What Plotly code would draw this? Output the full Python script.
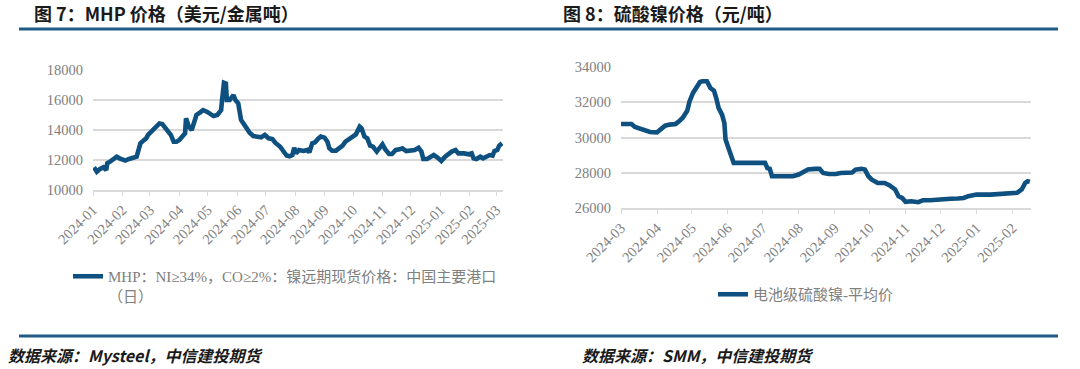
import plotly.graph_objects as go

# ---------------- data ----------------
mhp_dates = [
    "2024-01-02","2024-01-05","2024-01-08","2024-01-11","2024-01-12","2024-01-15","2024-01-16","2024-01-19",
    "2024-01-23","2024-01-26","2024-01-29","2024-02-01","2024-02-04","2024-02-08","2024-02-13","2024-02-16",
    "2024-02-18","2024-02-20","2024-02-23","2024-02-26","2024-02-28","2024-03-02","2024-03-05","2024-03-08",
    "2024-03-11","2024-03-14","2024-03-16","2024-03-19","2024-03-23","2024-03-26","2024-03-29","2024-04-01",
    "2024-04-04","2024-04-07","2024-04-08","2024-04-11","2024-04-14","2024-04-17","2024-04-19","2024-04-23",
    "2024-04-26","2024-04-30","2024-05-03","2024-05-07","2024-05-11","2024-05-15","2024-05-16","2024-05-18",
    "2024-05-20","2024-05-21","2024-05-24","2024-05-28","2024-05-30","2024-06-02","2024-06-05","2024-06-08",
    "2024-06-11","2024-06-14","2024-06-18","2024-06-21","2024-06-26","2024-06-30","2024-07-04","2024-07-08",
    "2024-07-11","2024-07-16","2024-07-19","2024-07-23","2024-07-26","2024-07-29","2024-07-31","2024-08-02",
    "2024-08-05","2024-08-10","2024-08-14","2024-08-16","2024-08-19","2024-08-22","2024-08-25","2024-08-28",
    "2024-09-01","2024-09-04","2024-09-06","2024-09-09","2024-09-13","2024-09-16","2024-09-20","2024-09-23",
    "2024-09-27","2024-09-30","2024-10-04","2024-10-08","2024-10-10","2024-10-13","2024-10-16","2024-10-19",
    "2024-10-22","2024-10-26","2024-10-29","2024-11-01","2024-11-04","2024-11-08","2024-11-11","2024-11-15",
    "2024-11-19","2024-11-22","2024-11-26","2024-12-01","2024-12-05","2024-12-09","2024-12-12","2024-12-14",
    "2024-12-18","2024-12-22","2024-12-25","2024-12-29","2025-01-02","2025-01-06","2025-01-09","2025-01-13",
    "2025-01-17","2025-01-20","2025-01-26","2025-01-31","2025-02-03","2025-02-05","2025-02-08","2025-02-12",
    "2025-02-15","2025-02-19","2025-02-22","2025-02-25","2025-02-27","2025-03-02","2025-03-04","2025-03-07",
]
mhp_values = [
    11510,11220,11380,11440,11510,11330,11780,11890,
    12110,12220,12110,12040,11960,12070,12160,12220,
    12670,13110,13290,13440,13670,13890,14000,14220,
    14440,14400,14220,14000,13670,13220,13220,13330,
    13600,13780,14780,14220,14000,14560,15000,15180,
    15330,15220,15110,14930,15000,15330,16000,17150,
    17100,16000,16000,16330,16000,15780,14670,14440,
    14110,13820,13600,13560,13510,13670,13450,13400,
    13150,12900,12600,12300,12250,12330,12820,12440,
    12670,12600,12670,12510,13110,13180,13400,13560,
    13490,13220,12780,12620,12620,12780,12960,13220,
    13400,13560,13710,14220,14110,13560,13440,12960,
    12890,12560,12780,13040,12710,12400,12400,12670,
    12710,12780,12600,12670,12670,12820,12560,12070,
    12070,12220,12330,12160,11930,12220,12400,12560,
    12670,12440,12440,12380,12440,12110,12070,12220,
    12110,12220,12330,12290,12600,12670,12960,13110,
]

ns_dates = [
    "2024-03-01","2024-03-10","2024-03-13","2024-03-17","2024-03-22","2024-03-26","2024-04-01","2024-04-04",
    "2024-04-08","2024-04-12","2024-04-17","2024-04-20","2024-04-23","2024-04-27","2024-04-29","2024-05-02",
    "2024-05-05","2024-05-08","2024-05-10","2024-05-14","2024-05-17","2024-05-20","2024-05-22","2024-05-24",
    "2024-05-27","2024-05-29","2024-05-30","2024-06-01","2024-06-04","2024-06-06","2024-06-15","2024-07-03",
    "2024-07-05","2024-07-07","2024-07-09","2024-07-15","2024-07-19","2024-07-27","2024-08-01","2024-08-06",
    "2024-08-09","2024-08-15","2024-08-19","2024-08-22","2024-08-27","2024-09-02","2024-09-06","2024-09-16",
    "2024-09-19","2024-09-24","2024-09-27","2024-09-30","2024-10-03","2024-10-08","2024-10-14","2024-10-18",
    "2024-10-23","2024-10-26","2024-10-29","2024-11-01","2024-11-06","2024-11-12","2024-11-16","2024-11-22",
    "2024-11-28","2024-12-01","2024-12-10","2024-12-16","2024-12-21","2024-12-25","2025-01-01","2025-01-13",
    "2025-01-22","2025-02-01","2025-02-05","2025-02-09","2025-02-12","2025-02-14","2025-02-16",
]
ns_values = [
    30770,30770,30600,30500,30350,30310,30290,30450,
    30670,30730,30770,30920,31110,31520,32050,32530,
    32810,33150,33190,33190,32810,32660,32240,31680,
    31300,30820,29880,29410,28930,28560,28560,28560,
    28270,28230,27800,27800,27840,27800,27900,28050,
    28180,28220,28220,27990,27930,27930,27990,28010,
    28180,28220,28180,27800,27610,27420,27420,27290,
    27050,26670,26570,26350,26380,26330,26440,26440,
    26480,26520,26520,26540,26570,26670,26760,26760,
    26800,26800,26860,27050,27420,27520,27480,
]

mhp_name = "MHP：NI≥34%，CO≥2%：镍远期现货价格：中国主要港口<br>（日）"
ns_name = "电池级硫酸镍-平均价"
title_left = "图 7：MHP 价格（美元/金属吨）"
title_right = "图 8：硫酸镍价格（元/吨）"
source_left = "数据来源：Mysteel，中信建投期货"
source_right = "数据来源：SMM，中信建投期货"

# ---------------- layout helpers ----------------
W, H = 1080, 369
def px(x):
    return x / W
def py(y):
    return 1 - y / H

LINE = "#0E5080"
GRID = "#D9D9D9"
TICKC = "#808080"
SERIF = "Liberation Serif, Noto Sans CJK SC"
CJK = "Noto Sans CJK SC"

fig = go.Figure()
fig.add_trace(go.Scatter(x=mhp_dates, y=mhp_values, mode="lines", name=mhp_name,
                         line=dict(color=LINE, width=4.6), xaxis="x", yaxis="y", legend="legend"))
fig.add_trace(go.Scatter(x=ns_dates, y=ns_values, mode="lines", name=ns_name,
                         line=dict(color=LINE, width=4.6), xaxis="x2", yaxis="y2", legend="legend2"))

tickfont = dict(family=SERIF, size=14.5, color=TICKC)

def xaxis(domain, rng, anchor):
    return dict(domain=domain, range=rng, anchor=anchor, type="date", automargin=False,
                dtick="M1", tick0="2024-01-01", tickformat="%Y-%m", tickangle=-45,
                showgrid=False, showline=True, linecolor=GRID, linewidth=1.5,
                ticks="outside", ticklen=4, tickcolor=GRID, tickwidth=1,
                tickfont=tickfont, zeroline=False, fixedrange=True)

def yaxis(domain, rng, dtick, anchor):
    return dict(domain=domain, range=rng, anchor=anchor, dtick=dtick, automargin=False,
                tickformat="d",
                showgrid=True, gridcolor=GRID, gridwidth=1.5, showline=False,
                zeroline=False, ticks="", tickfont=tickfont, ticklabelstandoff=9,
                fixedrange=True)

fig.update_layout(
    template="none",
    width=W, height=H, autosize=False,
    margin=dict(l=0, r=0, t=0, b=0, pad=0),
    paper_bgcolor="white", plot_bgcolor="white",
    xaxis=xaxis([px(93), px(503)], ["2024-01-01", "2025-03-08"], "y"),
    yaxis=yaxis([py(190), py(70)], [10000, 18000], 2000, "x"),
    xaxis2=xaxis([px(621), px(1031)], ["2024-03-01", "2025-02-17"], "y2"),
    yaxis2=yaxis([py(208), py(67)], [26000, 34000], 2000, "x2"),
    legend=dict(x=px(68), y=py(260), xanchor="left", yanchor="top", valign="top",
                font=dict(family=SERIF, size=15, color=TICKC), bgcolor="rgba(0,0,0,0)"),
    legend2=dict(x=px(713), y=py(278), xanchor="left", yanchor="top", valign="top",
                 font=dict(family=SERIF, size=15, color=TICKC), bgcolor="rgba(0,0,0,0)"),
    showlegend=True,
)

# decorative rules
for y0 in (29, 336):
    fig.add_shape(type="line", xref="paper", yref="paper", x0=px(19), x1=px(1058), y0=py(y0), y1=py(y0),
                  line=dict(color="#1F5A85", width=3))

ann_title = dict(family=CJK, size=18, color="#1A1A1A", weight="bold")
fig.add_annotation(text=title_left, x=px(32), y=py(13), xref="paper", yref="paper",
                   xanchor="left", yanchor="middle", showarrow=False, font=ann_title)
fig.add_annotation(text=title_right, x=px(561), y=py(13), xref="paper", yref="paper",
                   xanchor="left", yanchor="middle", showarrow=False, font=ann_title)
ann_src = dict(family=CJK, size=16, color="#1A1A1A", weight="bold", style="italic")
fig.add_annotation(text=source_left, x=px(6), y=py(355), xref="paper", yref="paper",
                   xanchor="left", yanchor="middle", showarrow=False, font=ann_src)
fig.add_annotation(text=source_right, x=px(580), y=py(355), xref="paper", yref="paper",
                   xanchor="left", yanchor="middle", showarrow=False, font=ann_src)

fig.write_html("out.html", config={"displayModeBar": False},
               post_script="document.body.style.margin='0px'; document.body.style.overflow='hidden';")
